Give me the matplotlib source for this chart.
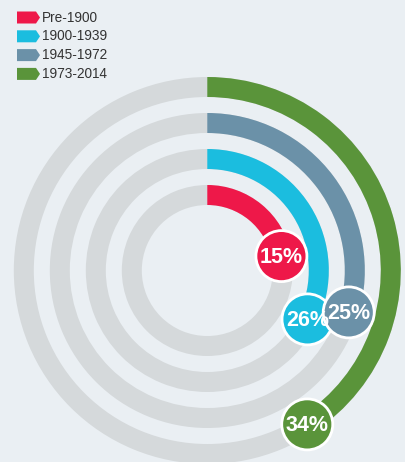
import numpy as np
import matplotlib
matplotlib.use("Agg")
from matplotlib import pyplot as plt
from matplotlib.patches import Wedge, Circle, Polygon

# data
periods = ['Pre-1900', '1900-1939', '1945-1972', '1973-2014']
shares = [15, 26, 25, 34]
# arc sweep (degrees clockwise from the top), as drawn in the original
sweeps = [79, 116, 106.5, 147]
colors = ['#ee1849', '#1bbddf', '#6b91a8', '#5a943a']

bg = '#eaeff3'
track = '#d5d9db'

W, H = 406, 462
fig = plt.figure(figsize=(W / 100, H / 100), dpi=100, facecolor=bg)
ax = fig.add_axes([0, 0, 1, 1])
ax.set_xlim(0, W)
ax.set_ylim(0, H)
ax.set_aspect('equal')
ax.axis('off')

cx, cy = 207.3, H - 270.5
ring_w = 20
outer = [85.5, 121.5, 157.5, 193.5]

# grey tracks + coloured arcs
for r, sw, c in zip(outer, sweeps, colors):
    ax.add_patch(Wedge((cx, cy), r, 0, 360, width=ring_w, color=track, lw=0))
    ax.add_patch(Wedge((cx, cy), r, 90 - sw, 90, width=ring_w, color=c, lw=0))

# label bubbles at the arc ends
for r, sw, c, v in zip(outer, sweeps, colors, shares):
    rm = r - ring_w / 2
    a = np.deg2rad(90 - sw)
    x, y = cx + rm * np.cos(a), cy + rm * np.sin(a)
    ax.add_patch(Circle((x, y), 25.5, facecolor=c, edgecolor='white', lw=2, zorder=5))
    ax.text(x, y - 1, f'{v}%', color='white', fontsize=15.5, fontweight='bold',
            family='Liberation Sans', ha='center', va='center', zorder=6)

# legend with arrow-shaped keys
for i, (p, c) in enumerate(zip(periods, colors)):
    yc = H - (17.5 + i * 18.8)
    key = Polygon([(17, yc - 6), (36, yc - 6), (40, yc), (36, yc + 6), (17, yc + 6)],
                  closed=True, color=c, lw=0)
    ax.add_patch(key)
    ax.text(42, yc, p, color='#333333', fontsize=9.8, family='Liberation Sans',
            ha='left', va='center')

fig.savefig('out.png', dpi=100, facecolor=bg)
